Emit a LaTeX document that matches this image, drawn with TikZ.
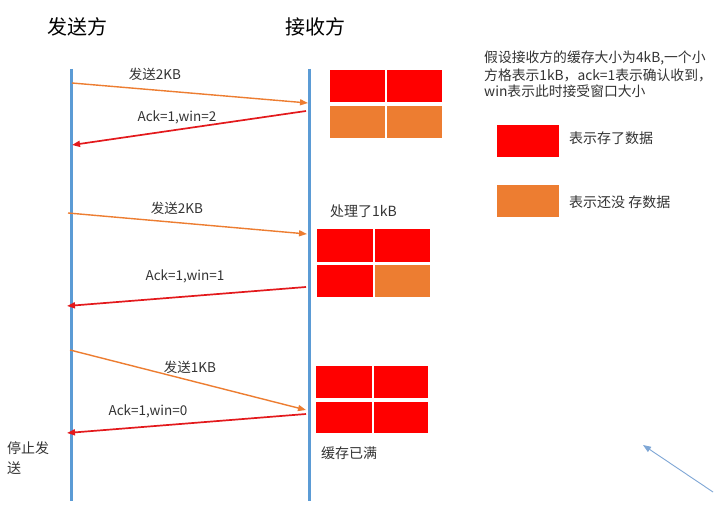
\documentclass[tikz,border=0pt]{standalone}
\usepackage{fontspec}
\setmainfont{Noto Sans CJK SC}
\usetikzlibrary{arrows.meta}
\definecolor{lifeblue}{HTML}{5B9BD5}
\definecolor{sendorange}{HTML}{ED7D31}
\definecolor{fullred}{HTML}{FF0000}
\definecolor{ackred}{HTML}{E3191C}
\definecolor{hintblue}{HTML}{7FA7D6}
\definecolor{txt}{HTML}{333333}
\tikzset{
  lifeline/.style={draw=lifeblue,line width=3pt},
  sendarrow/.style={draw=sendorange,line width=1.4pt,-{Triangle[length=8pt,width=6pt]}},
  ackarrow/.style={draw=ackred,line width=1.7pt,-{Triangle[length=8pt,width=6pt]}},
  title/.style={font=\fontsize{20pt}{24pt}\selectfont,text=black,inner sep=0pt},
  msglabel/.style={font=\fontsize{13.5pt}{15pt}\selectfont,text=txt,inner sep=0pt},
  notelabel/.style={font=\fontsize{13.8pt}{15pt}\selectfont,text=txt,inner sep=0pt},
  sidelabel/.style={font=\fontsize{14pt}{20pt}\selectfont,text=txt,inner sep=0pt},
  cellfull/.style={fill=fullred,draw=none},
  cellfree/.style={fill=sendorange,draw=none},
}
\begin{document}
\begin{tikzpicture}[x=1pt,y=-1pt]
\useasboundingbox[fill=white] (0,0) rectangle (720,516);
% titles
\node[title] (ts) at (77,27) {发送方};
\node[title] (tr) at (315,27) {接收方};
% lifelines
\coordinate (s0) at (71,69);
\coordinate (s1) at (71,501);
\coordinate (r0) at (309,69);
\coordinate (r1) at (309,501);
\draw[lifeline] (s0) -- (s1);
\draw[lifeline] (r0) -- (r1);
% message endpoints
\coordinate (a1s) at (72,83);  \coordinate (a1e) at (308,103);
\coordinate (a2s) at (306,111); \coordinate (a2e) at (72,145);
\coordinate (a3s) at (68,213); \coordinate (a3e) at (307,234);
\coordinate (a4s) at (306,287); \coordinate (a4e) at (67,306);
\coordinate (a5s) at (70,350); \coordinate (a5e) at (306,410);
\coordinate (a6s) at (306,414); \coordinate (a6e) at (67,433);
\draw[sendarrow] (a1s) -- (a1e);
\draw[ackarrow] (a2s) -- (a2e);
\draw[sendarrow] (a3s) -- (a3e);
\draw[ackarrow] (a4s) -- (a4e);
\draw[sendarrow] (a5s) -- (a5e);
\draw[ackarrow] (a6s) -- (a6e);
% message labels
\node[msglabel] (l1) at (155,74) {发送2KB};
\node[msglabel] (l2) at (177,117) {Ack=1,win=2};
\node[msglabel] (l3) at (177,208) {发送2KB};
\node[msglabel] (l4) at (185,276) {Ack=1,win=1};
\node[msglabel] (l5) at (190,367) {发送1KB};
\node[msglabel] (l6) at (148,411) {Ack=1,win=0};
% buffer 1
\fill[cellfull] (330,70) rectangle (385,102);
\fill[cellfull] (387,70) rectangle (442,102);
\fill[cellfree] (330,106) rectangle (385,138);
\fill[cellfree] (387,106) rectangle (442,138);
% buffer 2
\fill[cellfull] (317,229) rectangle (373,262);
\fill[cellfull] (375,229) rectangle (430,262);
\fill[cellfull] (317,265) rectangle (373,297);
\fill[cellfree] (375,265) rectangle (430,297);
% buffer 3
\fill[cellfull] (316,366) rectangle (372,398);
\fill[cellfull] (374,366) rectangle (428,398);
\fill[cellfull] (316,402) rectangle (372,433);
\fill[cellfull] (374,402) rectangle (428,433);
% side labels
\node[sidelabel,anchor=west] (proc) at (330,211) {处理了1kB};
\node[sidelabel,anchor=west] (full) at (321,453) {缓存已满};
\node[sidelabel,anchor=north west,align=left] (stop) at (7,441) {停止发\\送};
% note
\node[notelabel,anchor=west] (n1) at (484,58) {假设接收方的缓存大小为4kB,一个小};
\node[notelabel,anchor=west] (n2) at (484,75) {方格表示1kB，ack=1表示确认收到，};
\node[notelabel,anchor=west] (n3) at (484,91) {win表示此时接受窗口大小};
% legend
\fill[cellfull] (497,125) rectangle (559,157);
\node[sidelabel,anchor=west] (lg1) at (569,138) {表示存了数据};
\fill[cellfree] (497,185) rectangle (559,217);
\node[sidelabel,anchor=west] (lg2) at (569,202) {表示还没 存数据};
% hint arrow
\coordinate (h0) at (713,492);
\coordinate (h1) at (643,445);
\draw[draw=hintblue,line width=0.9pt,-{Triangle[length=8pt,width=6pt]}] (h0) -- (h1);
\end{tikzpicture}
\end{document}
